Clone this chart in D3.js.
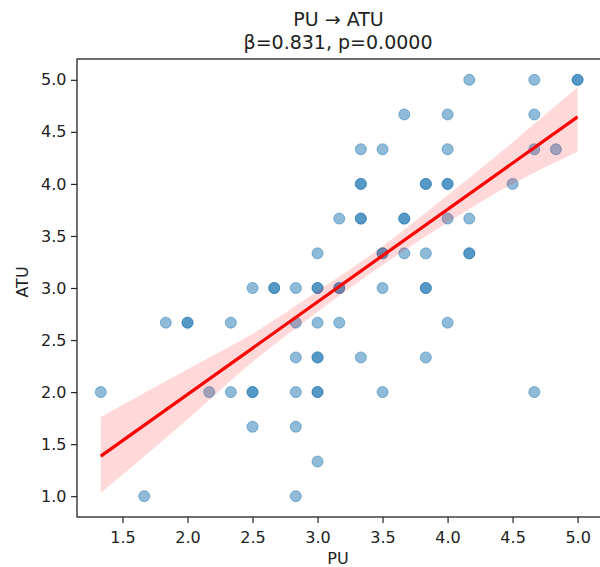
<!DOCTYPE html>
<html>
<head>
<meta charset="utf-8">
<script src="https://cdn.jsdelivr.net/npm/d3@7"></script>
<style>
  html, body { margin: 0; padding: 0; background: #fff; }
  svg { display: block; font-family: "DejaVu Sans", sans-serif; }
</style>
</head>
<body>
<svg id="chart" width="600" height="567"></svg>
<script>
// ---- Data ----
const pu  = [
  4.167, 4.667, 5.0, 5.0,
  3.667, 4.0, 4.667,
  3.333, 3.5, 4.0, 4.667, 4.833,
  3.333, 3.333, 3.833, 3.833, 4.0, 4.0, 4.5,
  3.167, 3.333, 3.333, 3.667, 3.667, 4.0, 4.167,
  3.0, 3.5, 3.5, 3.667, 3.833, 4.167, 4.167,
  2.5, 2.667, 2.667, 2.833, 3.0, 3.0, 3.167, 3.167, 3.5, 3.833, 3.833,
  1.833, 2.0, 2.0, 2.333, 2.833, 3.0, 3.167, 4.0,
  2.833, 3.0, 3.0, 3.333, 3.833,
  1.333, 2.167, 2.333, 2.5, 2.5, 2.833, 3.0, 3.0, 3.5, 4.667,
  2.5, 2.833,
  3.0,
  1.667, 2.833
];
const atu = [
  5.0, 5.0, 5.0, 5.0,
  4.667, 4.667, 4.667,
  4.333, 4.333, 4.333, 4.333, 4.333,
  4.0, 4.0, 4.0, 4.0, 4.0, 4.0, 4.0,
  3.667, 3.667, 3.667, 3.667, 3.667, 3.667, 3.667,
  3.333, 3.333, 3.333, 3.333, 3.333, 3.333, 3.333,
  3.0, 3.0, 3.0, 3.0, 3.0, 3.0, 3.0, 3.0, 3.0, 3.0, 3.0,
  2.667, 2.667, 2.667, 2.667, 2.667, 2.667, 2.667, 2.667,
  2.333, 2.333, 2.333, 2.333, 2.333,
  2.0, 2.0, 2.0, 2.0, 2.0, 2.0, 2.0, 2.0, 2.0, 2.0,
  1.667, 1.667,
  1.333,
  1.0, 1.0
];

// regression line endpoints and confidence band
const fitX     = [1.333, 5.0];
const fitY     = [1.385, 4.644];
const bandX     = [1.333, 2.0,  2.5,  3.0,  3.5,  4.0,  4.5,  5.0];
const bandLower = [1.03,  1.74, 2.29, 2.77, 3.22, 3.63, 4.00, 4.31];
const bandUpper = [1.76,  2.22, 2.56, 2.97, 3.40, 3.89, 4.40, 4.93];

const xTicks = [1.5, 2.0, 2.5, 3.0, 3.5, 4.0, 4.5, 5.0];
const yTicks = [1.0, 1.5, 2.0, 2.5, 3.0, 3.5, 4.0, 4.5, 5.0];

const titleLine1 = "PU → ATU";
const titleLine2 = "β=0.831, p=0.0000";
const xLabel = "PU";
const yLabel = "ATU";

// ---- Layout ----
const svg = d3.select("#chart");
const mLeft = 77, mRight = 601, mTop = 59, mBottom = 517;

const x = d3.scaleLinear().domain([1.15, 5.18]).range([mLeft, mRight]);
const y = d3.scaleLinear().domain([0.8, 5.2]).range([mBottom, mTop]);

const blue = "#1f77b4";
const red = "#ff0000";

// scatter points
const pts = pu.map((v, i) => ({ x: v, y: atu[i] }));
svg.append("g")
  .selectAll("circle")
  .data(pts)
  .enter()
  .append("circle")
  .attr("cx", d => x(d.x))
  .attr("cy", d => y(d.y))
  .attr("r", 5.5)
  .attr("fill", blue)
  .attr("fill-opacity", 0.5)
  .attr("stroke", blue)
  .attr("stroke-opacity", 0.5)
  .attr("stroke-width", 1);

// confidence band
const bandData = bandX.map((v, i) => ({ x: v, lo: bandLower[i], hi: bandUpper[i] }));
const area = d3.area()
  .x(d => x(d.x))
  .y0(d => y(d.lo))
  .y1(d => y(d.hi))
  .curve(d3.curveMonotoneX);
svg.append("path")
  .datum(bandData)
  .attr("d", area)
  .attr("fill", red)
  .attr("fill-opacity", 0.15)
  .attr("stroke", "none");

// regression line
const lineData = fitX.map((v, i) => ({ x: v, y: fitY[i] }));
svg.append("path")
  .datum(lineData)
  .attr("d", d3.line().x(d => x(d.x)).y(d => y(d.y)))
  .attr("fill", "none")
  .attr("stroke", red)
  .attr("stroke-width", 3.2);

// axes
const xAxis = d3.axisBottom(x).tickValues(xTicks).tickFormat(d3.format(".1f")).tickSize(6).tickPadding(8.5);
const yAxis = d3.axisLeft(y).tickValues(yTicks).tickFormat(d3.format(".1f")).tickSize(6).tickPadding(4.5);

const gx = svg.append("g").attr("transform", `translate(0,${mBottom})`).call(xAxis);
const gy = svg.append("g").attr("transform", `translate(${mLeft},0)`).call(yAxis);
[gx, gy].forEach(g => {
  g.select(".domain").remove();
  g.selectAll(".tick line").attr("stroke", "#222").attr("stroke-width", 1.2);
  g.selectAll(".tick text").attr("fill", "#222").style("font-size", "16px")
    .style("font-family", "'DejaVu Sans', sans-serif");
});

// spines (frame)
svg.append("rect")
  .attr("x", mLeft).attr("y", mTop)
  .attr("width", mRight - mLeft).attr("height", mBottom - mTop)
  .attr("fill", "none").attr("stroke", "#222").attr("stroke-width", 1.3);

// labels
svg.append("text")
  .attr("x", 338).attr("y", 564)
  .attr("text-anchor", "middle").attr("fill", "#222")
  .style("font-size", "16px").text(xLabel);

svg.append("text")
  .attr("transform", `translate(28,${(mTop + mBottom) / 2 - 6}) rotate(-90)`)
  .attr("text-anchor", "middle").attr("fill", "#222")
  .style("font-size", "16px").text(yLabel);

svg.append("text")
  .attr("x", 338.5).attr("y", 26)
  .attr("text-anchor", "middle").attr("fill", "#222")
  .style("font-size", "19px").text(titleLine1);
svg.append("text")
  .attr("x", 338).attr("y", 48.5)
  .attr("text-anchor", "middle").attr("fill", "#222")
  .style("font-size", "19px").text(titleLine2);
</script>
</body>
</html>
